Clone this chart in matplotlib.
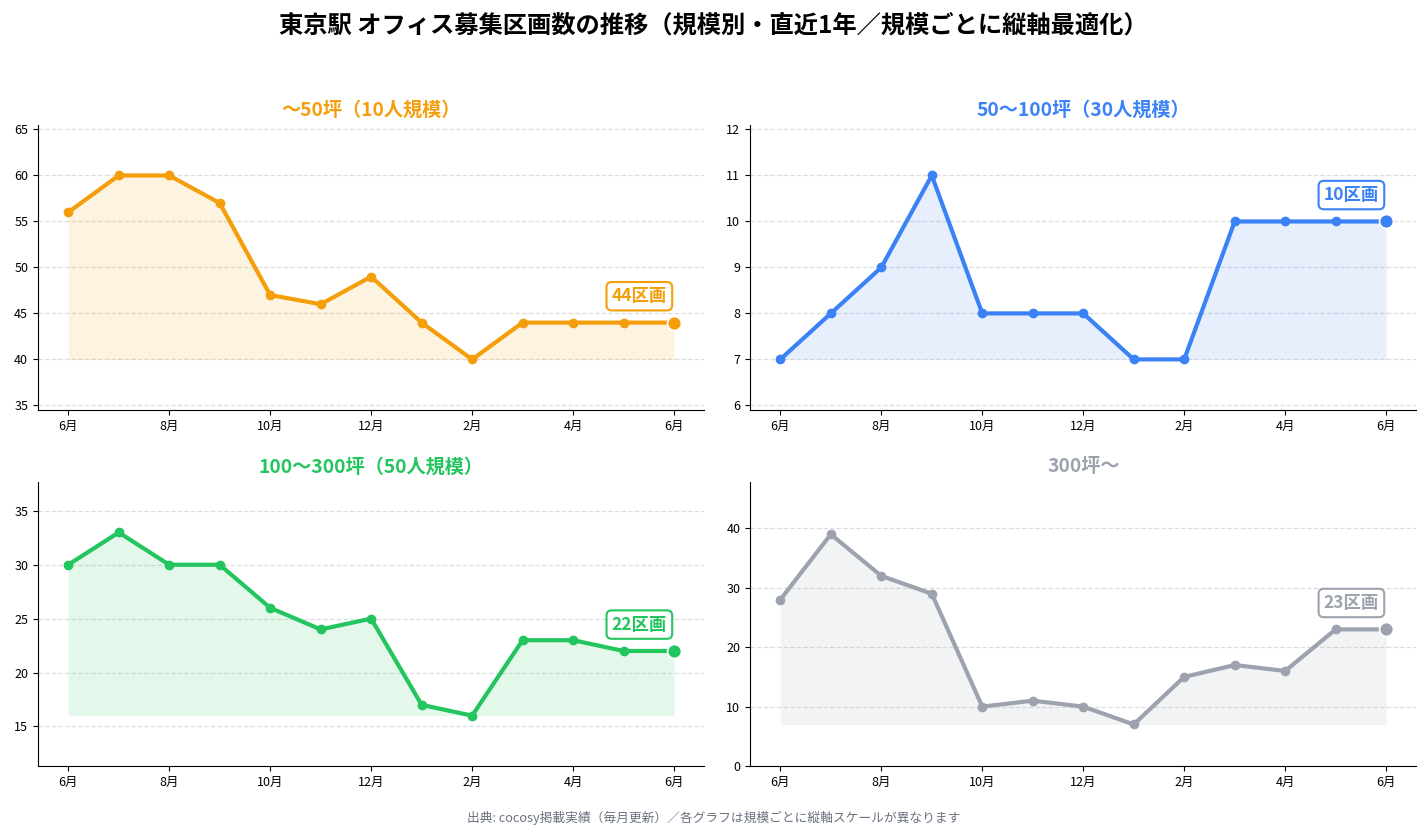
import matplotlib
matplotlib.use('Agg')
import matplotlib.pyplot as plt
import numpy as np

plt.rcParams['font.family'] = ['Noto Sans CJK JP', 'DejaVu Sans']

# Data
month_labels = ['6月', '7月', '8月', '9月', '10月', '11月', '12月',
                '1月', '2月', '3月', '4月', '5月', '6月']
titles = ['〜50坪（10人規模）', '50〜100坪（30人規模）',
          '100〜300坪（50人規模）', '300坪〜']
colors = ['#F59E0B', '#3B82F6', '#22C55E', '#9CA3AF']

small = [56, 60, 60, 57, 47, 46, 49, 44, 40, 44, 44, 44, 44]
mid = [7, 8, 9, 11, 8, 8, 8, 7, 7, 10, 10, 10, 10]
large = [30, 33, 30, 30, 26, 24, 25, 17, 16, 23, 23, 22, 22]
xlarge = [28, 39, 32, 29, 10, 11, 10, 7, 15, 17, 16, 23, 23]
series = [small, mid, large, xlarge]

yticks = [np.arange(35, 66, 5), np.arange(6, 13, 1),
          np.arange(15, 36, 5), np.arange(0, 41, 10)]

fig = plt.figure(figsize=(14.27, 8.36), dpi=100)
boxes = [(0.0266, 0.5096, 0.467, 0.341), (0.5256, 0.5096, 0.467, 0.341),
         (0.0266, 0.0837, 0.467, 0.3397), (0.5256, 0.0837, 0.467, 0.3397)]

for box, title, color, vals, yt in zip(boxes, titles, colors, series, yticks):
    ax = fig.add_axes(box)
    x = np.arange(len(vals))
    v = np.array(vals)
    lo, hi = v.min(), v.max()
    pad = (hi - lo) * 0.275
    ax.fill_between(x, v, lo, color=color, alpha=0.12, linewidth=0)
    ax.plot(x, v, color=color, linewidth=3, marker='o', markersize=6, zorder=3)
    ax.plot(x[-1], v[-1], 'o', color=color, markersize=10,
            markeredgecolor='white', markeredgewidth=1.2, zorder=4)
    ax.annotate(f'{vals[-1]}区画', xy=(x[-1], v[-1]), xytext=(-25, 19),
                textcoords='offset points', ha='center', va='center',
                fontsize=12.5, fontweight='bold', color=color,
                bbox=dict(boxstyle='round,pad=0.3', fc='white', ec=color, lw=1.5))
    ax.set_ylim(max(lo - pad, 0), hi + pad)
    ax.set_yticks(yt)
    ax.set_xticks(x[::2])
    ax.set_xticklabels(month_labels[::2])
    ax.tick_params(labelsize=9)
    ax.grid(axis='y', linestyle='--', color='#dddddd', linewidth=0.9)
    ax.set_axisbelow(True)
    for s in ['top', 'right']:
        ax.spines[s].set_visible(False)
    ax.set_title(title, color=color, fontsize=13.8, fontweight='bold', pad=7)

fig.text(0.5, 0.970, '東京駅 オフィス募集区画数の推移（規模別・直近1年／規模ごとに縦軸最適化）',
         ha='center', va='center', fontsize=17.5, fontweight='bold')
fig.text(0.5, 0.022, '出典: cocosy掲載実績（毎月更新）／各グラフは規模ごとに縦軸スケールが異なります',
         ha='center', va='center', fontsize=9.2, color='#6B7280')

fig.savefig('out.png', dpi=100)
